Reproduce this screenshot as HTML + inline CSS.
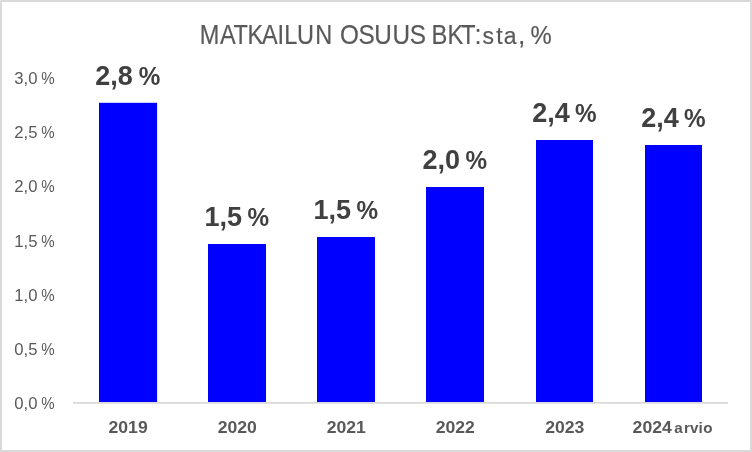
<!DOCTYPE html>
<html><head><meta charset="utf-8">
<style>
html,body{margin:0;padding:0;background:#fff;}
body{width:752px;height:452px;overflow:hidden;}
svg{display:block;font-family:"Liberation Sans",sans-serif;}
</style></head><body>
<svg width="752" height="452" viewBox="0 0 752 452">
<rect x="0" y="0" width="752" height="452" fill="#d9d9d9"/>
<rect x="2" y="2" width="748" height="448" fill="#fff"/>
<rect x="0" y="0" width="1" height="1" fill="#ececec"/>
<g fill="#595959" stroke="#595959" stroke-width="0.2">
<text transform="scale(0.855,1)" x="233.68 257.31 272.98 289.59 306.43 324.56 332.58 347.49 368.65" y="44.2" font-size="27.5">MATKAILUN</text>
<text transform="scale(0.885,1)" x="384.18 405.08 422.82 443.62 462.94" y="44.2" font-size="27.5">OSUUS</text>
<text transform="scale(0.865,1)" x="498.96 517.46 532.95 548.84" y="44.2" font-size="27.5">BKT:</text>
<text transform="scale(0.93,1)" x="518.92 533.55 541.61 556.99" y="44.2" font-size="24.7">sta<tspan font-size="28.5">,</tspan></text>
<text transform="scale(0.914,1)" x="580.31" y="44.2" font-size="26.1">%</text>
</g>
<g fill="#0000ff">
<rect x="99.0" y="102.8" width="58.1" height="299.7"/>
<rect x="208" y="244" width="58.0" height="158.5"/>
<rect x="317" y="237" width="58.0" height="165.5"/>
<rect x="426" y="187" width="58.0" height="215.5"/>
<rect x="536" y="140" width="57.0" height="262.5"/>
<rect x="645" y="145" width="57.0" height="257.5"/>
</g>
<rect x="73" y="402" width="655" height="1.75" fill="#d9d9d9"/>
<g font-size="16.7" fill="#595959">
<text x="14.3" y="84">3,0 <tspan x="41.2" textLength="13.4" lengthAdjust="spacingAndGlyphs">%</tspan></text>
<text x="14.3" y="138.2">2,5 <tspan x="41.2" textLength="13.4" lengthAdjust="spacingAndGlyphs">%</tspan></text>
<text x="14.3" y="191.7">2,0 <tspan x="41.2" textLength="13.4" lengthAdjust="spacingAndGlyphs">%</tspan></text>
<text x="14.3" y="246.7">1,5 <tspan x="41.2" textLength="13.4" lengthAdjust="spacingAndGlyphs">%</tspan></text>
<text x="14.3" y="301.0">1,0 <tspan x="41.2" textLength="13.4" lengthAdjust="spacingAndGlyphs">%</tspan></text>
<text x="14.3" y="354.6">0,5 <tspan x="41.2" textLength="13.4" lengthAdjust="spacingAndGlyphs">%</tspan></text>
<text x="14.3" y="408.8">0,0 <tspan x="41.2" textLength="13.4" lengthAdjust="spacingAndGlyphs">%</tspan></text>
</g>
<g font-size="16.3" font-weight="bold" fill="#595959">
<text x="108.5" y="432.6" textLength="39.2" lengthAdjust="spacingAndGlyphs">2019</text>
<text x="217.7" y="432.6" textLength="39.2" lengthAdjust="spacingAndGlyphs">2020</text>
<text x="326.7" y="432.6" textLength="39.2" lengthAdjust="spacingAndGlyphs">2021</text>
<text x="435.7" y="432.6" textLength="39.2" lengthAdjust="spacingAndGlyphs">2022</text>
<text x="545.2" y="432.6" textLength="39.2" lengthAdjust="spacingAndGlyphs">2023</text>
<text y="432.6"><tspan x="632.6" textLength="39.2" lengthAdjust="spacingAndGlyphs">2024</tspan> <tspan font-size="15.2" x="674.2 684.0 690.1 698.5 703.3">arvio</tspan></text>
</g>
<g font-size="27" font-weight="bold" fill="#404040">
<text x="95.2" y="85.3">2,8 <tspan x="138.7" font-size="25.3" textLength="21.6" lengthAdjust="spacingAndGlyphs">%</tspan></text>
<text x="204.6" y="226.1">1,5 <tspan x="247.6" font-size="25.3" textLength="21.6" lengthAdjust="spacingAndGlyphs">%</tspan></text>
<text x="313.6" y="218.7">1,5 <tspan x="356.6" font-size="25.3" textLength="21.6" lengthAdjust="spacingAndGlyphs">%</tspan></text>
<text x="422.6" y="168.5">2,0 <tspan x="465.6" font-size="25.3" textLength="21.6" lengthAdjust="spacingAndGlyphs">%</tspan></text>
<text x="532.2" y="121.5">2,4 <tspan x="575.1" font-size="25.3" textLength="21.6" lengthAdjust="spacingAndGlyphs">%</tspan></text>
<text x="641.2" y="126.5">2,4 <tspan x="684.1" font-size="25.3" textLength="21.6" lengthAdjust="spacingAndGlyphs">%</tspan></text>
</g>
</svg>
</body></html>
